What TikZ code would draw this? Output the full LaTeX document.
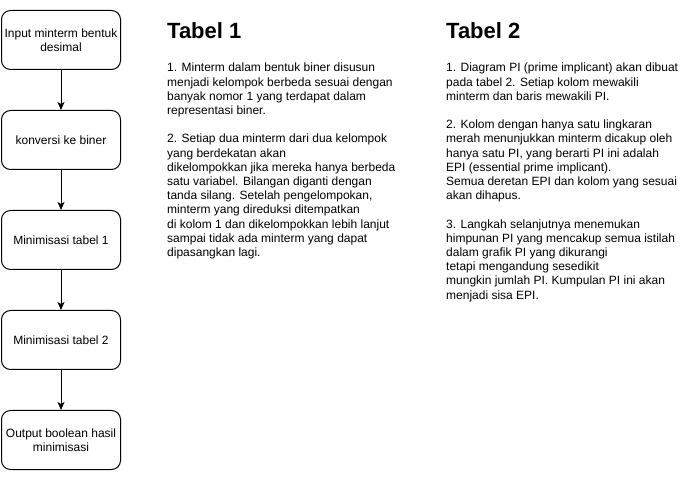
\documentclass[tikz,border=0pt]{standalone}
\usepackage{fontspec}
\setmainfont{Liberation Sans}
\usepackage{tikz}
\usetikzlibrary{arrows.meta, positioning}

\begin{document}
\begin{tikzpicture}[x=1pt, y=-1pt,
    langkah/.style={draw, line width=1pt, rounded corners=9pt, minimum width=119pt,
        minimum height=59pt, align=center, inner sep=2pt, font=\fontsize{12}{14.2}\selectfont},
    judul/.style={anchor=base west, inner sep=0pt, font=\fontsize{22}{26}\selectfont\bfseries},
    isi/.style={anchor=north west, inner sep=0pt, align=left, font=\fontsize{12}{14.2}\selectfont},
    panah/.style={-{Stealth[length=8pt, width=7pt, inset=2pt]}, line width=1pt}]
    \useasboundingbox (0,0) rectangle (681,481);

    % alur di kiri
    \node[langkah] (input) at (61, 40) {Input minterm bentuk\\desimal};
    \node[langkah] (biner) at (61, 140) {konversi ke biner};
    \node[langkah] (tabel1) at (61, 240) {Minimisasi tabel 1};
    \node[langkah] (tabel2) at (61, 340) {Minimisasi tabel 2};
    \node[langkah] (output) at (61, 440) {Output boolean hasil\\minimisasi};

    \draw[panah] (input) -- (biner);
    \draw[panah] (biner) -- (tabel1);
    \draw[panah] (tabel1) -- (tabel2);
    \draw[panah] (tabel2) -- (output);

    % Tabel 1
    \node[judul] (judul1) at (167, 39) {Tabel 1};
    \node[isi] (isi1) at (167, 63) {1. Minterm dalam bentuk biner disusun\\
        menjadi kelompok berbeda sesuai dengan\\
        banyak nomor 1 yang terdapat dalam\\
        representasi biner.\\[14.2pt]
        2. Setiap dua minterm dari dua kelompok\\
        yang berdekatan akan\\
        dikelompokkan jika mereka hanya berbeda\\
        satu variabel. Bilangan diganti dengan\\
        tanda silang. Setelah pengelompokan,\\
        minterm yang direduksi ditempatkan\\
        di kolom 1 dan dikelompokkan lebih lanjut\\
        sampai tidak ada minterm yang dapat\\
        dipasangkan lagi.};

    % Tabel 2
    \node[judul] (judul2) at (446, 39) {Tabel 2};
    \node[isi] (isi2) at (446, 63) {1. Diagram PI (prime implicant) akan dibuat\\
        pada tabel 2. Setiap kolom mewakili\\
        minterm dan baris mewakili PI.\\[14.2pt]
        2. Kolom dengan hanya satu lingkaran\\
        merah menunjukkan minterm dicakup oleh\\
        hanya satu PI, yang berarti PI ini adalah\\
        EPI (essential prime implicant).\\
        Semua deretan EPI dan kolom yang sesuai\\
        akan dihapus.\\[14.2pt]
        3. Langkah selanjutnya menemukan\\
        himpunan PI yang mencakup semua istilah\\
        dalam grafik PI yang dikurangi\\
        tetapi mengandung sesedikit\\
        mungkin jumlah PI. Kumpulan PI ini akan\\
        menjadi sisa EPI.};
\end{tikzpicture}
\end{document}
